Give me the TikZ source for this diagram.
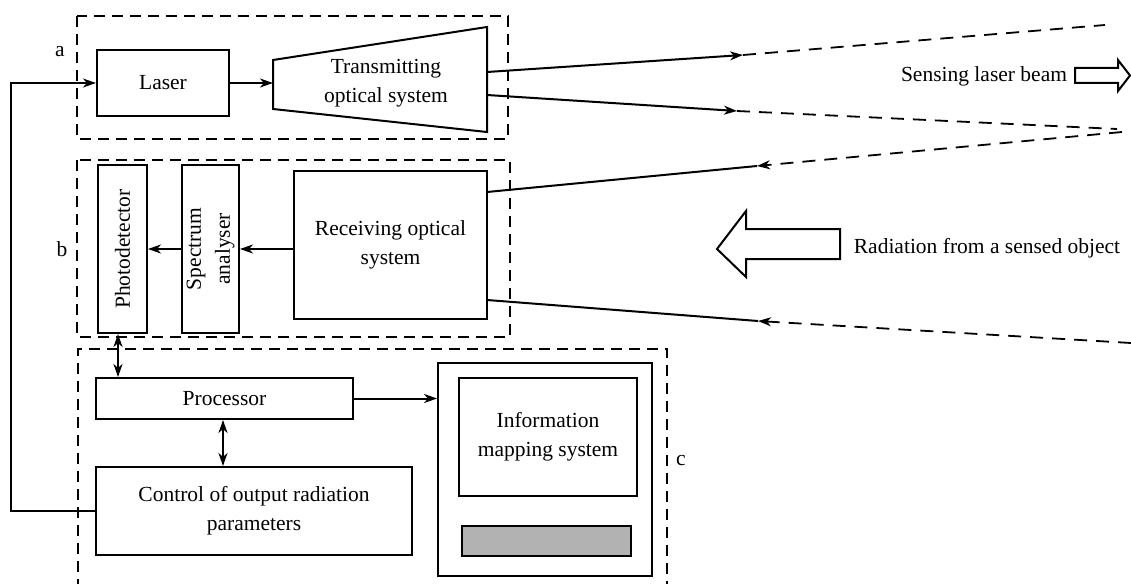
\documentclass[tikz,border=0pt]{standalone}
\usepackage{fontspec}
\setmainfont{Liberation Serif}
\usetikzlibrary{arrows.meta,calc}
\begin{document}
\begin{tikzpicture}[x=1pt,y=-1pt,
  font=\fontsize{21.5}{29}\selectfont,
  box/.style={draw,line width=2pt,inner sep=0pt,align=center},
  frame/.style={line width=1.8pt,dash pattern=on 11pt off 7pt},
  beam/.style={line width=1.8pt,dash pattern=on 13pt off 9pt},
  tip/.tip={Stealth[length=13pt,width=9pt,inset=4pt]},
  conn/.style={line width=2pt,-tip},
  bi/.style={line width=2pt,tip-tip},
  hollow/.style={draw,line width=2pt,fill=white,line join=miter},
  lbl/.style={inner sep=0pt}
]
\useasboundingbox (0,0) rectangle (1131,583);

% dashed frames
\draw[frame] (77,16) rectangle (508,139);
\draw[frame] (77,160) rectangle (510,337);
\draw[frame] (78,590) -- (78,349) -- (667,349) -- (667,590);
\node[lbl] (la) at (60,52) {a};
\node[lbl] (lb) at (62,249) {b};
\node[lbl] (lc) at (681,461) {c};

% block a
\node[box,minimum width=132pt,minimum height=66pt] (laser) at (163,83) {Laser};
\draw[line width=2pt,line join=miter] (273,60) -- (487,27) -- (487,132) -- (273,109) -- cycle;
\coordinate (tleft) at (273,83);
\node[align=center] (tx) at (386,83) {Transmitting\\optical system};
\draw[conn] (laser.east) -- (tleft);

% block b
\node[box,minimum width=49pt,minimum height=168pt] (pd) at (122.5,249) {};
\node[rotate=90] (pdt) at (pd.center) {Photodetector};
\node[box,minimum width=57pt,minimum height=168pt] (sa) at (210.5,249) {};
\node[rotate=90,align=center] (sat) at (sa.center) {Spectrum\\analyser};
\node[box,minimum width=193pt,minimum height=148pt] (recv) at (390.5,245) {Receiving optical\\system};
\draw[conn] (recv.west |- sa.center) -- (sa.east);
\draw[conn] (sa.west) -- (pd.east);

% block c
\node[box,minimum width=257pt,minimum height=41pt] (proc) at (224.5,398.5) {Processor};
\node[box,minimum width=316pt,minimum height=88pt] (ctrl) at (254,511) {Control of output radiation\\parameters};
\node[box,minimum width=214pt,minimum height=213pt] (mon) at (545,469.5) {};
\node[box,minimum width=178pt,minimum height=118pt] (info) at (548,437) {Information\\mapping system};
\node[box,minimum width=169pt,minimum height=30pt,fill=black!30] (bar) at (546.5,541) {};
\coordinate (pdx) at (118,350);
\coordinate (pcx) at (223,440);
\draw[bi] (pd.south -| pdx) -- (proc.north -| pdx);
\draw[bi] (proc.south -| pcx) -- (ctrl.north -| pcx);
\draw[conn] (proc.east) -- (proc.east -| mon.west);

% feedback
\coordinate (fb) at (11,300);
\draw[conn] (ctrl.west) -- (ctrl.west -| fb) -- (laser.west -| fb) -- (laser.west);

% transmitted beams
\coordinate (t1s) at (487,72);
\coordinate (t1m) at (743,55);
\coordinate (t1e) at (1105,25);
\coordinate (t2s) at (487,95);
\coordinate (t2m) at (737,111);
\coordinate (t2e) at (1117,129);
\draw[conn] (t1s) -- (t1m);
\draw[beam] (t1m) -- (t1e);
\draw[conn] (t2s) -- (t2m);
\draw[beam] (t2m) -- (t2e);

% received beams
\coordinate (r1s) at (487,192);
\coordinate (r1m) at (757,166);
\coordinate (r1e) at (1122,132);
\coordinate (r2s) at (487,300);
\coordinate (r2m) at (758,321);
\coordinate (r2e) at (1131,343);
\draw[line width=2pt] (r1s) -- (r1m);
\draw[beam,-tip] (r1e) -- (r1m);
\draw[line width=2pt] (r2s) -- (r2m);
\draw[beam,-tip] (r2e) -- (r2m);

% hollow arrows and captions
\draw[hollow] (1075,68) -- (1118,68) -- (1118,60) -- (1130,75.5) -- (1118,91) -- (1118,83) -- (1075,83) -- cycle;
\node (sens) at (984,76) {Sensing laser beam};
\draw[hollow] (717,249) -- (746,211) -- (746,229) -- (840,229) -- (840,259) -- (746,259) -- (746,277) -- cycle;
\node (rad) at (987,248) {Radiation from a sensed object};
\end{tikzpicture}
\end{document}
